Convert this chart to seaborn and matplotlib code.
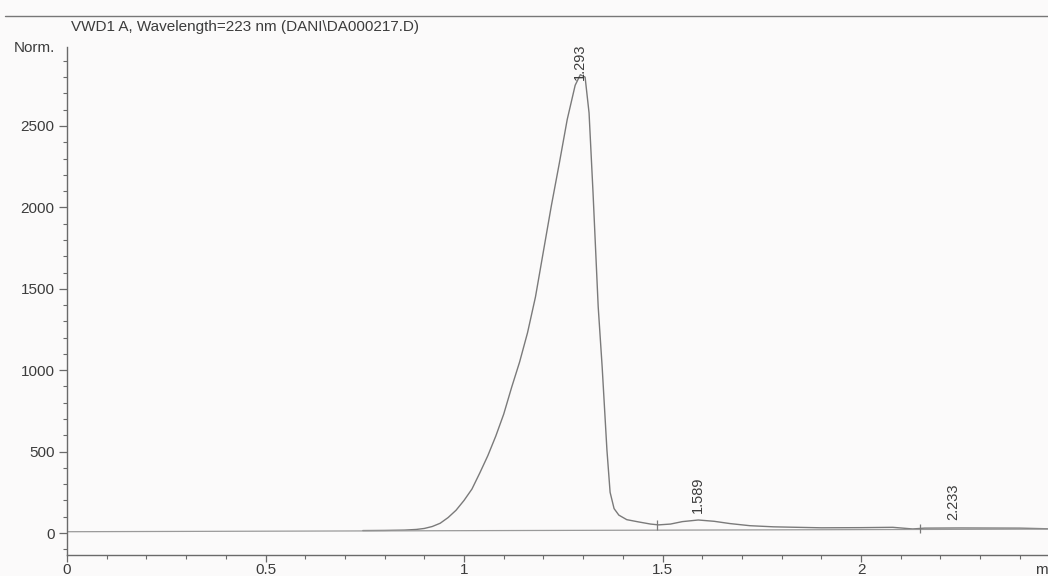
import matplotlib
matplotlib.use("Agg")
import matplotlib.pyplot as plt
from matplotlib.lines import Line2D
from matplotlib.ticker import MultipleLocator
import seaborn as sns
import pandas as pd

# ---- data ----
time_min = [0.745, 0.80, 0.85, 0.88, 0.90, 0.92, 0.94, 0.96, 0.98, 1.00,
            1.02, 1.04, 1.06, 1.08, 1.10, 1.12, 1.14, 1.16, 1.18, 1.20,
            1.22, 1.24, 1.26, 1.28, 1.293, 1.305, 1.315, 1.325, 1.338, 1.348,
            1.360, 1.368, 1.378, 1.39, 1.41, 1.44, 1.47, 1.49, 1.52, 1.55,
            1.59, 1.63, 1.67, 1.72, 1.78, 1.90, 2.00, 2.08, 2.13, 2.16,
            2.25, 2.40, 2.47]
signal = [15, 16, 18, 22, 28, 40, 60, 95, 140, 200,
          270, 370, 475, 595, 730, 895, 1050, 1230, 1450, 1730,
          2010, 2270, 2540, 2750, 2815, 2800, 2580, 2090, 1390, 1020,
          510, 250, 150, 110, 82, 68, 55, 50, 55, 70,
          80, 72, 58, 45, 38, 32, 33, 35, 25, 30,
          31, 30, 26]

baseline_t = [0.0, 2.47]
baseline_v = [8, 24]

peak_rt = [1.293, 1.589, 2.233]
peak_label_y = [2780, 125, 80]
peak_labels = ["1.293", "1.589", "2.233"]

marker_t = [1.486, 2.149]
marker_v = [50, 28]

title_text = "VWD1 A, Wavelength=223 nm (DANI\\DA000217.D)"

# ---- styling ----
sns.set_theme(style="ticks")
plt.rcParams["font.family"] = ["Liberation Sans", "DejaVu Sans"]
txt = "#3c3c3c"
axc = "#6a6a6a"
bg = "#fbfafa"

fig = plt.figure(figsize=(10.48, 5.76), dpi=100, facecolor=bg)
ax = fig.add_axes([67 / 1048, 1 - 555 / 576, (1048 - 67) / 1048, (555 - 47) / 576])
ax.set_facecolor(bg)

df = pd.DataFrame({"t": time_min, "v": signal})
sns.lineplot(data=df, x="t", y="v", ax=ax, color="#7a7a7a", lw=1.0,
             sort=False, estimator=None)
ax.plot(baseline_t, baseline_v, color="#9a9a9a", lw=0.9)

for t, v in zip(marker_t, marker_v):
    ax.vlines(t, v - 30, v + 30, color="#7a7a7a", lw=0.9)

for t, yv, lab in zip(peak_rt, peak_label_y, peak_labels):
    ax.text(t, yv, lab, rotation=90, ha="center", va="bottom",
            fontsize=10.5, color=txt)

ax.set_xlim(0, 2.471)
ax.set_ylim(-135, 2985)
ax.xaxis.set_major_locator(MultipleLocator(0.5))
ax.xaxis.set_minor_locator(MultipleLocator(0.1))
ax.yaxis.set_major_locator(MultipleLocator(500))
ax.yaxis.set_minor_locator(MultipleLocator(100))
ax.set_xticks([0, 0.5, 1, 1.5, 2])
ax.set_xticklabels(["0", "0.5", "1", "1.5", "2"])
ax.set_xlabel("")
ax.set_ylabel("")

sns.despine(ax=ax, top=True, right=True)
for s in ("left", "bottom"):
    ax.spines[s].set_color(axc)
    ax.spines[s].set_linewidth(1.0)

ax.tick_params(axis="y", which="major", length=6, width=0.9, color=axc,
               labelsize=11, labelcolor=txt, pad=3)
ax.tick_params(axis="y", which="minor", length=3, width=0.8, color=axc)
ax.tick_params(axis="x", which="major", length=5, width=0.9, color=axc,
               labelsize=11, labelcolor=txt, pad=1)
ax.tick_params(axis="x", which="minor", length=3, width=0.8, color=axc)

fig.text(55 / 1048, 1 - 48 / 576, "Norm.", ha="right", va="center",
         fontsize=11, color=txt)
fig.text(1035 / 1048, 1 - 570 / 576, "min", ha="left", va="center",
         fontsize=11, color=txt)
fig.text(71 / 1048, 1 - 27 / 576, title_text, ha="left", va="center",
         fontsize=11, color=txt)
fig.add_artist(Line2D([0.005, 1.0], [1 - 16 / 576, 1 - 16 / 576],
                      transform=fig.transFigure, color="#777777", lw=1.0))

fig.savefig("out.png", dpi=100, facecolor=bg)
